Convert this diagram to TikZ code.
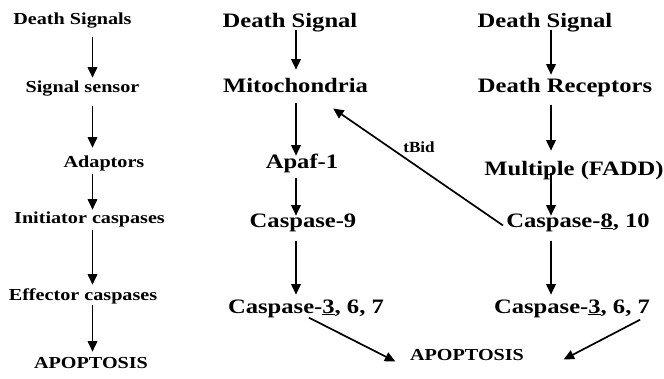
\documentclass[tikz,border=0pt]{standalone}
\usepackage{fontspec}
\usepackage{graphicx}
\setmainfont{Liberation Serif}
\usetikzlibrary{arrows.meta,calc}
\newcommand{\sx}[1]{\scalebox{1.2}[1]{#1}}
\newcommand{\sxs}[1]{\scalebox{1.1}[1]{#1}}
\tikzset{
  lbl/.style={anchor=base, inner sep=0pt, text height=0.75em, text depth=0.25em, font=\bfseries\fontsize{16.8}{18}\selectfont},
  big/.style={anchor=base, inner sep=0pt, text height=0.75em, text depth=0.25em, font=\bfseries\fontsize{20.5}{22}\selectfont},
  small/.style={anchor=base, inner sep=0pt, font=\bfseries\fontsize{15.5}{17}\selectfont},
  arr/.style={line width=1.7pt, -{Triangle[length=10.5pt,width=9.5pt]}}
}
\begin{document}
\begin{tikzpicture}[x=1pt,y=-1pt]
\useasboundingbox (0,0) rectangle (664,378);
\coordinate (colL) at (92.5,0);
\coordinate (colM) at (296,0);
\coordinate (colR) at (551,0);
% left column
\node[lbl] (l1) at (72.5,24) {\sx{Death Signals}};
\node[lbl] (l2) at (82.5,92) {\sx{Signal sensor}};
\node[lbl] (l3) at (104,167) {\sx{Adaptors}};
\node[lbl] (l4) at (89.5,223) {\sx{Initiator caspases}};
\node[lbl] (l5) at (83,300) {\sx{Effector caspases}};
\node[lbl] (l6) at (91,368) {\sx{APOPTOSIS}};
\draw[arr, shorten <=10pt, shorten >=6.6pt] (l1.south -| colL) -- (l2.north -| colL);
\draw[arr, shorten <=11pt, shorten >=11.6pt] (l2.south -| colL) -- (l3.north -| colL);
\draw[arr, shorten <=4pt, shorten >=5.6pt] (l3.south -| colL) -- (l4.north -| colL);
\draw[arr, shorten <=4pt, shorten >=7.6pt] (l4.south -| colL) -- (l5.north -| colL);
\draw[arr, shorten <=2pt, shorten >=8.6pt] (l5.south -| colL) -- (l6.north -| colL);
% middle column
\node[big] (m1) at (290,27) {\sx{Death Signal}};
\node[big] (m2) at (295.5,92) {\sx{Mitochondria}};
\node[big] (m3) at (302,168) {\sx{Apaf-1}};
\node[big] (m4) at (303,227) {\sx{Caspase-9}};
\node[big] (m5) at (306,313) {\sx{Caspase-\underline{3}, 6, 7}};
\draw[arr, shorten <=0pt, shorten >=14.6pt] (m1.south -| colM) -- (m2.north -| colM);
\draw[arr, shorten <=8pt, shorten >=4.6pt] (m2.south -| colM) -- (m3.north -| colM);
\draw[arr, shorten <=7pt, shorten >=3.6pt] (m3.south -| colM) -- (m4.north -| colM);
\draw[arr, shorten <=11pt, shorten >=10.6pt] (m4.south -| colM) -- (m5.north -| colM);
% right column
\node[big] (r1) at (545,27) {\sx{Death Signal}};
\node[big] (r2) at (565,92) {\sx{Death Receptors}};
\node[big] (r3) at (574,175) {\sx{Multiple (FADD)}};
\node[big] (r4) at (578,227) {\sx{Caspase-\underline{8}, 10}};
\node[big] (r5) at (572,313) {\sx{Caspase-\underline{3}, 6, 7}};
\draw[arr, shorten <=0pt, shorten >=9.6pt] (r1.south -| colR) -- (r2.north -| colR);
\draw[arr, shorten <=10pt, shorten >=16.6pt] (r2.south -| colR) -- (r3.north -| colR);
\draw[arr, shorten <=-5pt, shorten >=3.6pt] (r3.south -| colR) -- (r4.north -| colR);
\draw[arr, shorten <=11pt, shorten >=10.6pt] (r4.south -| colR) -- (r5.north -| colR);
% bottom
\node[lbl] (apo) at (467,360) {\sx{APOPTOSIS}};
\draw[arr] ($(m5.south)+(3,2)$) -- ($(apo.west)+(-14.5,4)$);
\draw[arr] ($(r5.south east)+(-10,4)$) -- ($(apo.east)+(39.5,2)$);
% tBid
\draw[arr] ($(r4.west)+(-3,1)$) -- ($(m2.east)+(-35,19)$);
\node[small] (tbid) at (419,152) {\sxs{tBid}};
\end{tikzpicture}
\end{document}
